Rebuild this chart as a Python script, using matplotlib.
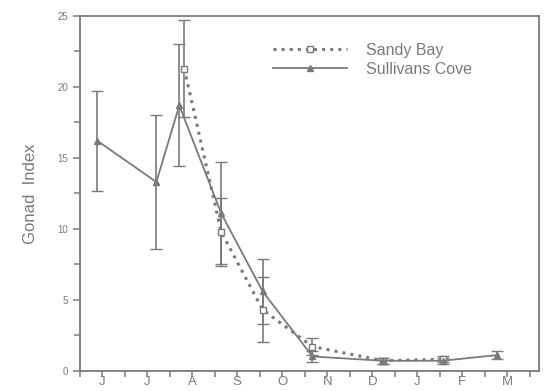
import numpy as np
import matplotlib
matplotlib.use("Agg")
from matplotlib import pyplot as plt

months = ["J", "J", "A", "S", "O", "N", "D", "J", "F", "M"]

# sampling times in months from first June
sullivans_x = [-0.11, 1.2, 1.71, 2.64, 3.56, 4.67, 6.24, 7.56, 8.78]
sullivans_y = [16.2, 13.3, 18.7, 11.1, 5.6, 1.0, 0.7, 0.7, 1.1]
sullivans_err = [3.5, 4.7, 4.3, 3.6, 2.3, 0.4, 0.2, 0.2, 0.3]

sandy_x = [1.82, 2.64, 3.56, 4.67, 6.24, 7.56]
sandy_y = [21.3, 9.8, 4.3, 1.7, 0.7, 0.8]
sandy_err = [3.4, 2.4, 2.3, 0.6, 0.2, 0.2]

grey = "#7a7a7a"
plt.rcParams['font.family'] = ['Liberation Sans', 'DejaVu Sans']

fig = plt.figure(figsize=(5.47, 3.91), dpi=100)
ax = fig.add_axes([0.146, 0.052, 0.839, 0.907])

sb = ax.errorbar(sandy_x, sandy_y, yerr=sandy_err, color=grey, ls=':', lw=2.2,
                 marker='s', ms=4, mfc='white', mec=grey, capsize=4, elinewidth=1.2)
sc = ax.errorbar(sullivans_x, sullivans_y, yerr=sullivans_err, color=grey, ls='-', lw=1.3,
                 marker='^', ms=5, mfc=grey, mec=grey, capsize=4, elinewidth=1.2)

ax.set_xlim(-0.5, 9.7)
ax.set_ylim(0, 25)
ax.set_xticks(np.arange(len(months)), months)
ax.set_xticks(np.arange(-0.5, 9.6, 1), minor=True)
ax.set_yticks([0, 5, 10, 15, 20, 25])
ax.set_yticks(np.arange(2.5, 25, 5), minor=True)

for s in ax.spines.values():
    s.set_color(grey)
    s.set_linewidth(1.3)
ax.tick_params(colors=grey, direction='out', length=5, width=1.1, labelsize=7)
ax.tick_params(axis='x', labelsize=9.5, pad=0, length=4)
ax.tick_params(which='minor', colors=grey, direction='out', length=4, width=1.1)

ax.set_ylabel('Gonad  Index', color=grey, fontsize=12, labelpad=14)

# legend uses only the lines, no error bars
leg = ax.legend([sb[0], sc[0]], ['Sandy Bay', 'Sullivans Cove'], loc='upper left',
                bbox_to_anchor=(0.39, 0.965), frameon=False, fontsize=11.5,
                handlelength=4.6, handletextpad=1.2, labelspacing=0.25,
                labelcolor=grey)

fig.savefig('out.png', dpi=100)
